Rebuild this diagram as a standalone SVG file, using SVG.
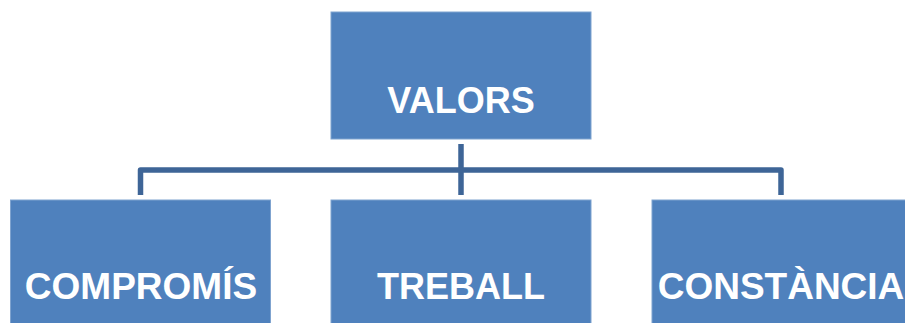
<svg xmlns="http://www.w3.org/2000/svg" width="905" height="323" viewBox="0 0 905 323">
<style>
.box{fill:#4F81BD;stroke:#7FA3CF;stroke-width:1}
.lbl{font-family:"Liberation Sans",Arial,sans-serif;font-weight:bold;font-size:36px;fill:#FFFFFF;text-anchor:middle}
.wide{font-size:37px}
.conn{fill:none;stroke:#3E6597;stroke-width:5.5;stroke-linejoin:round}
</style>
<rect width="905" height="323" fill="#FFFFFF"/>
<g id="connectors">
<path class="conn" d="M461,144 V195"/>
<path class="conn" d="M140.5,195 V170 H781 V195"/>
</g>
<g id="node-valors">
<rect class="box" x="331" y="12" width="260" height="127"/>
<text class="lbl" x="461" y="113">VALORS</text>
</g>
<g id="node-compromis">
<rect class="box" x="10.5" y="200" width="260" height="130"/>
<text class="lbl wide" x="141" y="299">COMPROMÍS</text>
</g>
<g id="node-treball">
<rect class="box" x="331" y="200" width="260" height="130"/>
<text class="lbl" x="461" y="299">TREBALL</text>
</g>
<g id="node-constancia">
<rect class="box" x="652" y="200" width="260" height="130"/>
<text class="lbl wide" x="781" y="299">CONSTÀNCIA</text>
</g>
</svg>
